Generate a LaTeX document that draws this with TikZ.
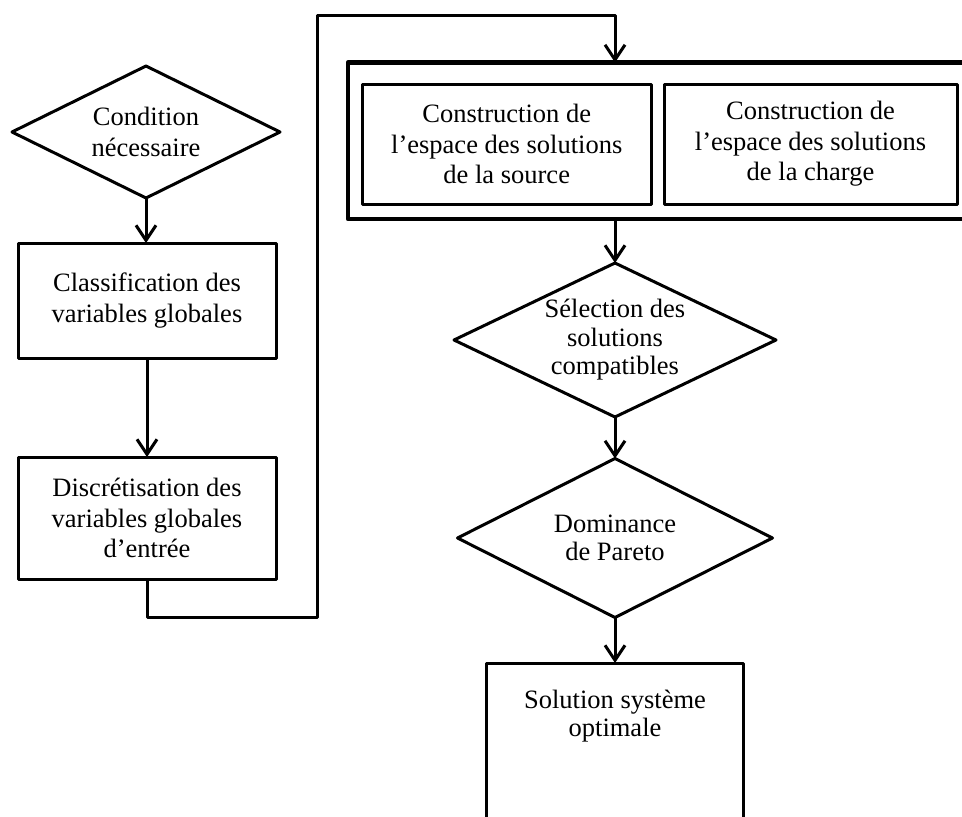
\documentclass[tikz,border=0pt]{standalone}
\usepackage{fontspec}
\setmainfont{Liberation Serif}
\usetikzlibrary{shapes.geometric,arrows.meta,calc}
\begin{document}
\begin{tikzpicture}[x=1pt,y=-1pt,
  every node/.style={font=\fontsize{26.5}{28.5}\selectfont, align=center, inner sep=0pt, outer sep=0pt},
  wide/.style={font=\fontsize{26.5}{30.5}\selectfont},
  box/.style={draw, line width=3pt, rectangle},
  dec/.style={draw, line width=3pt, diamond},
  arr/.style={line width=3pt, -{Straight Barb[length=15pt,width=20pt]}},
  line join=round]
\useasboundingbox (0,0) rectangle (962,817);
\clip (0,0) rectangle (962,817);
% left column
\node[dec, wide, aspect=2.03, minimum width=268, minimum height=132] (cond) at (146,132) {Condition\\nécessaire};
\node[box, wide, minimum width=258, minimum height=115] (class) at (147,300.5) {Classification des\\variables globales};
\node[box, wide, minimum width=258, minimum height=122] (disc) at (147,518) {Discrétisation des\\variables globales\\d’entrée};
% outer group box
\node[box, line width=4.5pt, minimum width=640, minimum height=156.5, anchor=north west] (outer) at (348,62.5) {};
\node[box, wide, minimum width=288.5, minimum height=120] (src) at (506.75,144) {Construction de\\l’espace des solutions\\de la source};
\node[box, wide, minimum width=293, minimum height=120] (chg) at (810.5,144) {Construction de\\l’espace des solutions\\de la charge};
% right column
\node[dec, aspect=2.09, minimum width=322, minimum height=154] (sel) at (615,340) {Sélection des\\solutions\\compatibles};
\node[dec, aspect=1.98, minimum width=315, minimum height=159] (dom) at (615,538) {Dominance\\de Pareto};
\node[box, minimum width=257, minimum height=180, anchor=north] (sol) at (615,663) {};
\node (soltxt) at (615,716) {Solution système\\optimale};
% routing coordinates
\coordinate (c1) at (317.5,617);
\coordinate (c2) at (317.5,15);
% connectors
\draw[arr] (cond.south) -- (cond.south |- class.north);
\draw[arr] (class.south) -- (disc.north);
\draw[arr] (disc.south) |- (c1) -- (c2) -| (sel.north |- outer.north);
\draw[arr] (sel.north |- outer.south) -- (sel.north);
\draw[arr] (sel.south) -- (dom.north);
\draw[arr] (dom.south) -- (sol.north);
\end{tikzpicture}
\end{document}
